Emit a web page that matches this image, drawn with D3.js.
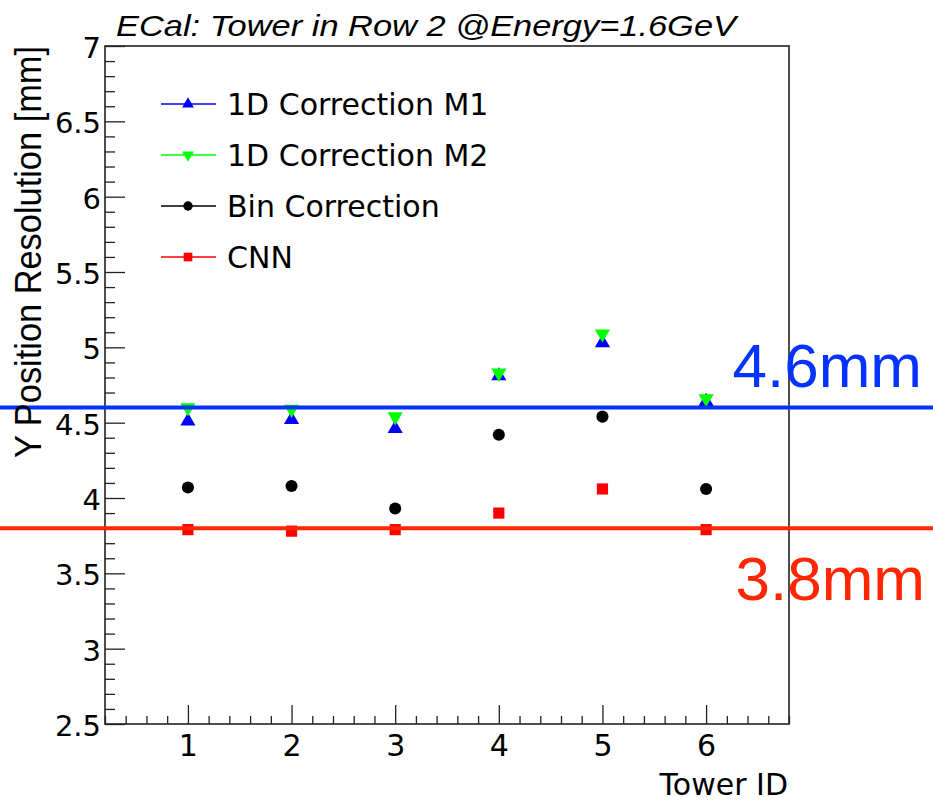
<!DOCTYPE html>
<html>
<head>
<meta charset="utf-8">
<script src="https://cdn.jsdelivr.net/npm/d3@7"></script>
<style>
  html, body { margin: 0; padding: 0; background: #fff; }
  svg { display: block; font-family: "DejaVu Sans", sans-serif; }
</style>
</head>
<body>
<svg id="chart" width="933" height="801"></svg>
<script>
// Data
const towers = [1, 2, 3, 4, 5, 6];
const m1Values = [4.51, 4.52, 4.46, 4.81, 5.03, 4.64];
const m2Values = [4.60, 4.59, 4.54, 4.83, 5.09, 4.66];
const binValues = [4.07, 4.08, 3.93, 4.42, 4.54, 4.06];
const cnnValues = [3.79, 3.78, 3.79, 3.90, 4.06, 3.79];
const refLevels = [4.6, 3.8];
const refLabels = ["4.6mm", "3.8mm"];
const yMajorTicks = [2.5, 3, 3.5, 4, 4.5, 5, 5.5, 6, 6.5, 7];

const width = 933, height = 801;
const margin = { left: 105, right: 144, top: 46, bottom: 77 };

const svg = d3.select("#chart");

const xScale = d3.scaleLinear().domain([0.2, 6.8]).range([margin.left, width - margin.right]);
const yScale = d3.scaleLinear().domain([2.5, 7]).range([height - margin.bottom, margin.top]);

const series = [
    { name: "1D Correction M1", values: m1Values, color: "#0000ff", shape: d3.symbolTriangle, size: 100, rot: 0 },
    { name: "1D Correction M2", values: m2Values, color: "#00ff00", shape: d3.symbolTriangle, size: 100, rot: 180 },
    { name: "Bin Correction", values: binValues, color: "#000000", shape: d3.symbolCircle, size: 115, rot: 0 },
    { name: "CNN", values: cnnValues, color: "#ff0000", shape: d3.symbolSquare, size: 125, rot: 0 }
];

// Minor ticks
const yMinor = d3.range(25, 71).map(d => d / 10).filter(d => !yMajorTicks.includes(d));
const xMinor = d3.range(2, 69, 2).map(d => d / 10).filter(d => !towers.includes(d));

const bottom = height - margin.bottom;

// Left axis: major then minor
svg.append("g")
    .attr("class", "y-major")
    .attr("transform", `translate(${margin.left},0)`)
    .call(d3.axisLeft(yScale).tickValues(yMajorTicks).tickSize(-20).tickPadding(4).tickFormat(d3.format("~g")));
svg.append("g")
    .attr("transform", `translate(${margin.left},0)`)
    .call(d3.axisLeft(yScale).tickValues(yMinor).tickSize(-10).tickFormat(""));

// Bottom axis
svg.append("g")
    .attr("class", "x-major")
    .attr("transform", `translate(0,${bottom})`)
    .call(d3.axisBottom(xScale).tickValues(towers).tickSize(-19).tickPadding(11).tickFormat(d3.format("d")));
svg.append("g")
    .attr("transform", `translate(0,${bottom})`)
    .call(d3.axisBottom(xScale).tickValues(xMinor).tickSize(-8).tickFormat(""));

svg.selectAll(".domain").remove();
svg.selectAll(".tick line").attr("stroke", "#222").attr("stroke-width", 1.3);
svg.selectAll(".tick text").attr("fill", "#000").attr("font-family", "DejaVu Sans, sans-serif");
svg.selectAll(".y-major .tick text").attr("font-size", 29).attr("dy", "0.4em");
svg.selectAll(".x-major .tick text").attr("font-size", 30);

// Frame
svg.append("rect")
    .attr("x", margin.left)
    .attr("y", margin.top)
    .attr("width", width - margin.left - margin.right)
    .attr("height", height - margin.top - margin.bottom)
    .attr("fill", "none")
    .attr("stroke", "#222")
    .attr("stroke-width", 1.6);

// Data points
series.forEach(s => {
    svg.append("g")
        .selectAll("path")
        .data(towers.map((t, i) => ({ t, v: s.values[i] })))
        .join("path")
        .attr("d", d3.symbol().type(s.shape).size(s.size))
        .attr("transform", d => `translate(${xScale(d.t)},${yScale(d.v)}) rotate(${s.rot})`)
        .attr("fill", s.color);
});

// Reference lines across the full width
const refColors = ["#0433ff", "#ff2600"];
svg.append("g")
    .selectAll("line")
    .data(refLevels)
    .join("line")
    .attr("x1", 0)
    .attr("x2", width)
    .attr("y1", d => yScale(d))
    .attr("y2", d => yScale(d))
    .attr("stroke", (d, i) => refColors[i])
    .attr("stroke-width", 4);

svg.append("text")
    .text(refLabels[0])
    .attr("x", 922).attr("y", yScale(refLevels[0]) - 21)
    .attr("text-anchor", "end")
    .attr("font-family", "Liberation Sans, Arial, sans-serif")
    .attr("font-size", 62)
    .attr("fill", refColors[0]);
svg.append("text")
    .text(refLabels[1])
    .attr("x", 925).attr("y", yScale(refLevels[1]) + 72)
    .attr("text-anchor", "end")
    .attr("font-family", "Liberation Sans, Arial, sans-serif")
    .attr("font-size", 62)
    .attr("fill", refColors[1]);

// Legend
const legend = svg.append("g");
series.forEach((s, i) => {
    const ly = 104 + i * 51;
    legend.append("line")
        .attr("x1", 161).attr("x2", 216)
        .attr("y1", ly).attr("y2", ly)
        .attr("stroke", s.color).attr("stroke-width", 1.5);
    legend.append("path")
        .attr("d", d3.symbol().type(s.shape).size(s.size * 0.6))
        .attr("transform", `translate(188,${ly}) rotate(${s.rot})`)
        .attr("fill", s.color);
    legend.append("text")
        .text(s.name)
        .attr("x", 227).attr("y", ly + 11)
        .attr("font-size", 30)
        .attr("fill", "#000");
});

// Title
svg.append("text")
    .text("ECal: Tower in Row 2 @Energy=1.6GeV")
    .attr("x", 116).attr("y", 36)
    .attr("font-family", "Liberation Sans, Arial, sans-serif")
    .attr("font-size", 30)
    .attr("font-style", "italic")
    .attr("textLength", 620)
    .attr("lengthAdjust", "spacingAndGlyphs");

// Axis titles
svg.append("text")
    .text("Tower ID")
    .attr("x", 788).attr("y", 795)
    .attr("text-anchor", "end")
    .attr("font-size", 30);

svg.append("text")
    .text("Y Position Resolution [mm]")
    .attr("transform", `translate(41,252) rotate(-90)`)
    .attr("text-anchor", "middle")
    .attr("font-family", "Liberation Sans, Arial, sans-serif")
    .attr("font-size", 36)
    .attr("textLength", 412)
    .attr("lengthAdjust", "spacingAndGlyphs");
</script>
</body>
</html>
